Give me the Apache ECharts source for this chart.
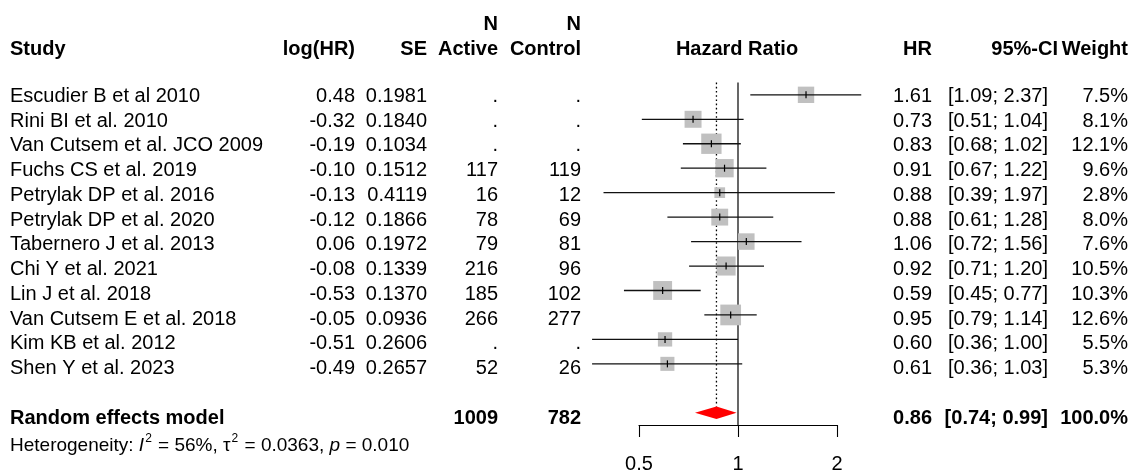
<!DOCTYPE html>
<html>
<head>
<meta charset="utf-8">
<script src="https://cdn.jsdelivr.net/npm/echarts@6/dist/echarts.min.js"></script>
<style>
  html, body { margin: 0; padding: 0; background: #fff; }
  #chart { width: 1130px; height: 474px; }
</style>
</head>
<body>
<div id="chart"></div>
<script>
// ---- data ----
const studies = [
  "Escudier B et al 2010", "Rini BI et al. 2010", "Van Cutsem et al. JCO 2009",
  "Fuchs CS et al. 2019", "Petrylak DP et al. 2016", "Petrylak DP et al. 2020",
  "Tabernero J et al. 2013", "Chi Y et al. 2021", "Lin J et al. 2018",
  "Van Cutsem E et al. 2018", "Kim KB et al. 2012", "Shen Y et al. 2023"
];
const logHR = [0.48, -0.32, -0.19, -0.10, -0.13, -0.12, 0.06, -0.08, -0.53, -0.05, -0.51, -0.49];
const se = [0.1981, 0.1840, 0.1034, 0.1512, 0.4119, 0.1866, 0.1972, 0.1339, 0.1370, 0.0936, 0.2606, 0.2657];
const nActive = [null, null, null, 117, 16, 78, 79, 216, 185, 266, null, 52];
const nControl = [null, null, null, 119, 12, 69, 81, 96, 102, 277, null, 26];
const hr = [1.61, 0.73, 0.83, 0.91, 0.88, 0.88, 1.06, 0.92, 0.59, 0.95, 0.60, 0.61];
const ciLow = [1.09, 0.51, 0.68, 0.67, 0.39, 0.61, 0.72, 0.71, 0.45, 0.79, 0.36, 0.36];
const ciHigh = [2.37, 1.04, 1.02, 1.22, 1.97, 1.28, 1.56, 1.20, 0.77, 1.14, 1.00, 1.03];
const weight = [7.5, 8.1, 12.1, 9.6, 2.8, 8.0, 7.6, 10.5, 10.3, 12.6, 5.5, 5.3];

const pooledLabel = "Random effects model";
const pooledHR = 0.86;
const pooledCI = [0.74, 0.99];
const pooledN = [1009, 782];
const pooledWeight = 100.0;
const hetI2 = 56;
const hetTau2 = 0.0363;
const hetP = "0.010";

// ---- layout ----
const FONT = '"Liberation Sans", Arial, sans-serif';
const ROW_TOP = -0.5, ROW_BOTTOM = 13.5;   // y range of plot area (rows)
const POOLED_ROW = 13, HEADER_ROW = -1.9, N_ROW = -2.92, HET_ROW = 14.05;
const GRID_TOP = 82.6, GRID_H = 346.4;
const TEXT_DY = 1.5;

// anchor x (px) and alignment of each table column
const cols = {
  study:   { x: 10,   align: "left" },
  logHR:   { x: 355,  align: "right" },
  se:      { x: 427,  align: "right" },
  active:  { x: 498,  align: "right" },
  control: { x: 581,  align: "right" },
  hrHead:  { x: 737,  align: "center" },
  hr:      { x: 932,  align: "right" },
  ci:      { x: 1048, align: "right" },
  ciHead:  { x: 1058, align: "right" },
  weight:  { x: 1128, align: "right" },
  het:     { x: 10,   align: "left" }
};

// build the table cells
const cells = [];
const cell = (col, row, text, bold) => cells.push({ col, row, text, bold: !!bold });
const ciText = (a, b) => "[" + a.toFixed(2) + "; " + b.toFixed(2) + "]";

// header
cell("active", N_ROW, "N", true);
cell("control", N_ROW, "N", true);
cell("study", HEADER_ROW, "Study", true);
cell("logHR", HEADER_ROW, "log(HR)", true);
cell("se", HEADER_ROW, "SE", true);
cell("active", HEADER_ROW, "Active", true);
cell("control", HEADER_ROW, "Control", true);
cell("hrHead", HEADER_ROW, "Hazard Ratio", true);
cell("hr", HEADER_ROW, "HR", true);
cell("ciHead", HEADER_ROW, "95%-CI", true);
cell("weight", HEADER_ROW, "Weight", true);

studies.forEach((s, i) => {
  cell("study", i, s);
  cell("logHR", i, logHR[i].toFixed(2));
  cell("se", i, se[i].toFixed(4));
  cell("active", i, nActive[i] == null ? "." : String(nActive[i]));
  cell("control", i, nControl[i] == null ? "." : String(nControl[i]));
  cell("hr", i, hr[i].toFixed(2));
  cell("ci", i, ciText(ciLow[i], ciHigh[i]));
  cell("weight", i, weight[i].toFixed(1) + "%");
});

cell("study", POOLED_ROW, pooledLabel, true);
cell("active", POOLED_ROW, String(pooledN[0]), true);
cell("control", POOLED_ROW, String(pooledN[1]), true);
cell("hr", POOLED_ROW, pooledHR.toFixed(2), true);
cell("ci", POOLED_ROW, ciText(pooledCI[0], pooledCI[1]), true);
cell("weight", POOLED_ROW, pooledWeight.toFixed(1) + "%", true);
cells.push({
  col: "het", row: HET_ROW, rich: true,
  text: "{n|Heterogeneity: }{i|I}{s|2}{n| = " + hetI2 + "%, \u03c4}{s|2}{n| = " + hetTau2.toFixed(4) +
        ", }{i|p}{n| = " + hetP + "}"
});

const chart = echarts.init(document.getElementById("chart"), null, { renderer: "canvas" });

const sqSize = w => 1.8 + 5.33 * Math.sqrt(w);   // square side in px
const DIAMOND_HALF_H = 6.3;

const options = {
  backgroundColor: "#fff",
  animation: false,
  grid: [
    { left: 639, width: 198, top: GRID_TOP, height: GRID_H },   // plot panel
    { left: 0, width: 1130, top: GRID_TOP, height: GRID_H }     // table text
  ],
  xAxis: [
    {
      type: "log", logBase: 2, min: 0.5, max: 2, gridIndex: 0, position: "bottom",
      splitLine: { show: false },
      axisLine: { show: true, onZero: false, lineStyle: { color: "#000", width: 1.1 } },
      axisTick: { show: true, length: 12, lineStyle: { color: "#000", width: 1.1 } },
      axisLabel: {
        color: "#000", fontSize: 20, fontFamily: FONT, margin: 29,
        formatter: v => String(+(+v).toFixed(2))
      }
    },
    { type: "value", min: 0, max: 1130, gridIndex: 1, show: false }
  ],
  yAxis: [
    { type: "value", min: ROW_TOP, max: ROW_BOTTOM, inverse: true, gridIndex: 0, show: false },
    { type: "value", min: ROW_TOP, max: ROW_BOTTOM, inverse: true, gridIndex: 1, show: false }
  ],
  series: [
    // line of no effect and pooled estimate (dotted)
    {
      type: "custom", xAxisIndex: 0, yAxisIndex: 0, clip: false, z: 1,
      data: [[1, 0], [pooledHR, 1]],
      renderItem: (params, api) => {
        const x = api.value(0);
        const dotted = api.value(1) === 1;
        const top = api.coord([x, ROW_TOP]);
        const bottom = dotted
          ? [top[0], api.coord([x, POOLED_ROW])[1] - DIAMOND_HALF_H]
          : api.coord([x, ROW_BOTTOM]);
        return {
          type: "line",
          shape: { x1: top[0], y1: top[1], x2: bottom[0], y2: bottom[1] },
          style: { stroke: "#000", lineWidth: dotted ? 1.3 : 1.2, lineDash: dotted ? [1.6, 2.6] : null }
        };
      }
    },
    // study squares
    {
      type: "custom", xAxisIndex: 0, yAxisIndex: 0, clip: false, z: 2,
      data: hr.map((v, i) => [v, i, weight[i]]),
      renderItem: (params, api) => {
        const p = api.coord([api.value(0), api.value(1)]);
        const s = sqSize(api.value(2));
        return {
          type: "rect",
          shape: { x: p[0] - s / 2, y: p[1] - s / 2, width: s, height: s },
          style: { fill: "#c0c0c0" }
        };
      }
    },
    // confidence intervals + centre tick
    {
      type: "custom", xAxisIndex: 0, yAxisIndex: 0, clip: false, z: 3,
      data: hr.map((v, i) => [ciLow[i], ciHigh[i], i, v]),
      renderItem: (params, api) => {
        const row = api.value(2);
        const a = api.coord([api.value(0), row]);
        const b = api.coord([api.value(1), row]);
        const c = api.coord([api.value(3), row]);
        return {
          type: "group",
          children: [
            { type: "line", shape: { x1: a[0], y1: a[1], x2: b[0], y2: b[1] },
              style: { stroke: "#111", lineWidth: 1.3 } },
            { type: "line", shape: { x1: c[0], y1: c[1] - 3.5, x2: c[0], y2: c[1] + 3.5 },
              style: { stroke: "#000", lineWidth: 1.2 } }
          ]
        };
      }
    },
    // pooled diamond
    {
      type: "custom", xAxisIndex: 0, yAxisIndex: 0, clip: false, z: 3,
      data: [[pooledCI[0], pooledHR, pooledCI[1], POOLED_ROW]],
      renderItem: (params, api) => {
        const row = api.value(3);
        const l = api.coord([api.value(0), row]);
        const m = api.coord([api.value(1), row]);
        const r = api.coord([api.value(2), row]);
        return {
          type: "polygon",
          shape: { points: [[l[0], l[1]], [m[0], m[1] - DIAMOND_HALF_H], [r[0], r[1]], [m[0], m[1] + DIAMOND_HALF_H]] },
          style: { fill: "#ff0000" }
        };
      }
    },
    // table text
    {
      type: "custom", xAxisIndex: 1, yAxisIndex: 1, clip: false, z: 4, silent: true,
      data: cells.map(c => [cols[c.col].x, c.row]),
      renderItem: (params, api) => {
        const c = cells[params.dataIndex];
        const p = api.coord([api.value(0), api.value(1)]);
        const style = {
          text: c.text, fill: "#000", align: cols[c.col].align, verticalAlign: "middle",
          fontFamily: FONT, fontSize: 20, fontWeight: c.bold ? "bold" : "normal"
        };
        if (c.rich) {
          style.fontSize = 19;
          style.rich = {
            n: { fontSize: 19, fontFamily: FONT, fill: "#000", lineHeight: 22, verticalAlign: "bottom" },
            i: { fontSize: 19, fontFamily: FONT, fill: "#000", fontStyle: "italic", lineHeight: 22, verticalAlign: "bottom" },
            s: { fontSize: 12, fontFamily: FONT, fill: "#000", lineHeight: 22, verticalAlign: "top", padding: [0, 1, 0, 1] }
          };
        }
        return { type: "text", x: p[0], y: p[1] + TEXT_DY, style };
      }
    }
  ]
};

chart.setOption(options);
window.addEventListener("resize", () => chart.resize());
</script>
</body>
</html>
